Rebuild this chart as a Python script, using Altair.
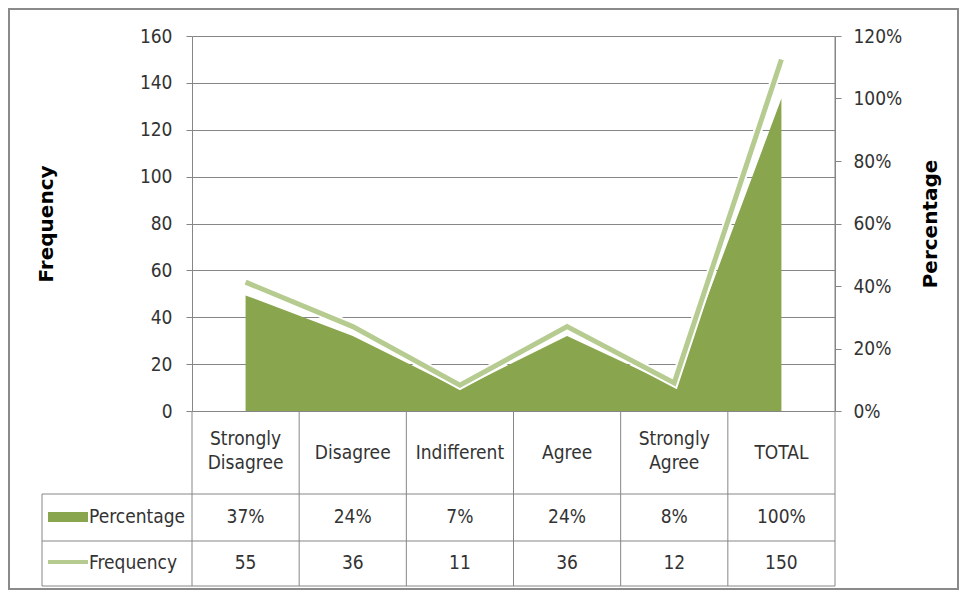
import altair as alt
import pandas as pd

# ---- data ----
categories = ["Strongly Disagree", "Disagree", "Indifferent", "Agree", "Strongly Agree", "TOTAL"]
percentage = [37, 24, 7, 24, 8, 100]
frequency = [55, 36, 11, 36, 12, 150]
series_names = ["Percentage", "Frequency"]
freq_ticks = [0, 20, 40, 60, 80, 100, 120, 140, 160]
pct_ticks = [0, 20, 40, 60, 80, 100, 120]

df = pd.DataFrame({"cat": categories, "pct": percentage, "freq": frequency})

W, H = 643, 375
FONT = "DejaVu Sans Condensed, sans-serif"
TITLE_FONT = "DejaVu Sans, sans-serif"
FS = 19
AREA_C = "#89A54E"
LINE_C = "#B6CB90"
GRID_C = "#868686"
TXT_C = "#333333"

xs = alt.X("cat:N", sort=categories,
           scale=alt.Scale(type="point", padding=0.5, domain=categories),
           axis=None)

base = alt.Chart(df)

area = base.mark_area(color=AREA_C, opacity=1).encode(
    x=xs,
    y=alt.Y("pct:Q", scale=alt.Scale(domain=[0, 120]),
            axis=alt.Axis(orient="right", values=pct_ticks, labelExpr="datum.value + '%'",
                          grid=False, domainColor=GRID_C, tickColor=GRID_C, tickSize=6,
                          labelFont=FONT, labelFontSize=FS, labelColor=TXT_C, labelPadding=12,
                          title="Percentage", titleFont=TITLE_FONT, titleFontSize=20,
                          titleFontWeight="bold", titleColor="#000000", titleAngle=-90,
                          titleX=95, titleY=H / 2, titleAlign="center", titleBaseline="middle")),
)

line_white = base.mark_line(color="white", strokeWidth=9).encode(
    x=xs,
    y=alt.Y("freq:Q", scale=alt.Scale(domain=[0, 160]), axis=None),
)

line = base.mark_line(color=LINE_C, strokeWidth=5).encode(
    x=xs,
    y=alt.Y("freq:Q", scale=alt.Scale(domain=[0, 160]),
            axis=alt.Axis(orient="left", values=freq_ticks, grid=True, gridColor=GRID_C,
                          gridWidth=1, gridOpacity=1, domainColor=GRID_C, tickColor=GRID_C,
                          tickSize=6, labelFont=FONT, labelFontSize=FS, labelColor=TXT_C,
                          labelPadding=14,
                          title="Frequency", titleFont=TITLE_FONT, titleFontSize=20,
                          titleFontWeight="bold", titleColor="#000000", titleAngle=-90,
                          titleX=-146, titleY=H / 2, titleAlign="center",
                          titleBaseline="middle")),
)

# ---- data table below the plot ----
one = alt.Data(values=[{}])

table_vlines = base.mark_rule(color=GRID_C, strokeWidth=1, xOffset=-W / 12).encode(
    x=xs, y=alt.value(H), y2=alt.value(550))
right_vline = alt.Chart(one).mark_rule(color=GRID_C, strokeWidth=1).encode(
    x=alt.value(W), y=alt.value(0), y2=alt.value(550))
left_vline = alt.Chart(one).mark_rule(color=GRID_C, strokeWidth=1).encode(
    x=alt.value(-150), y=alt.value(458), y2=alt.value(550))
hlines = [
    alt.Chart(one).mark_rule(color=GRID_C, strokeWidth=1).encode(
        x=alt.value(-150), x2=alt.value(W), y=alt.value(yy))
    for yy in (458, 505, 550)
]

header_one = base.transform_filter("indexof(datum.cat, ' ') < 0").mark_text(
    font=FONT, fontSize=FS, color=TXT_C, baseline="middle", align="center").encode(
    x=xs, y=alt.value(417), text="cat:N")
header_two = base.transform_filter("indexof(datum.cat, ' ') >= 0").mark_text(
    font=FONT, fontSize=FS, color=TXT_C, lineBreak=" ", lineHeight=24,
    baseline="middle", align="center").encode(
    x=xs, y=alt.value(403), text="cat:N")

pct_text = base.transform_calculate(lbl="datum.pct + '%'").mark_text(
    font=FONT, fontSize=FS, color=TXT_C, baseline="middle", align="center").encode(
    x=xs, y=alt.value(481), text="lbl:N")

freq_text = base.mark_text(font=FONT, fontSize=FS, color=TXT_C, baseline="middle",
                           align="center").encode(
    x=xs, y=alt.value(527), text="freq:Q")

series_df = pd.DataFrame({"name": series_names})
pct_key = alt.Chart(series_df).transform_filter(alt.datum.name == series_names[0]).mark_rect(
    color=AREA_C).encode(x=alt.value(-144), x2=alt.value(-104), y=alt.value(476), y2=alt.value(486))
freq_key = alt.Chart(series_df).transform_filter(alt.datum.name == series_names[1]).mark_rule(
    color=LINE_C, strokeWidth=4).encode(x=alt.value(-144), x2=alt.value(-104), y=alt.value(526))
pct_lab = alt.Chart(series_df).transform_filter(alt.datum.name == series_names[0]).mark_text(
    font=FONT, fontSize=FS, color=TXT_C, align="left", baseline="middle").encode(
    x=alt.value(-103), y=alt.value(481), text="name:N")
freq_lab = alt.Chart(series_df).transform_filter(alt.datum.name == series_names[1]).mark_text(
    font=FONT, fontSize=FS, color=TXT_C, align="left", baseline="middle").encode(
    x=alt.value(-103), y=alt.value(527), text="name:N")

frame = alt.Chart(one).mark_rect(fillOpacity=0, stroke="#8a8a8a", strokeWidth=2).encode(
    x=alt.value(-183), x2=alt.value(766), y=alt.value(-27), y2=alt.value(553))

chart = alt.layer(
    frame, area, line_white, line,
    table_vlines, right_vline, left_vline, *hlines,
    header_one, header_two, pct_text, freq_text, pct_key, freq_key, pct_lab, freq_lab,
).resolve_scale(y="independent").properties(
    width=W, height=H,
    padding={"left": 184, "top": 28, "right": 124, "bottom": 179},
    autosize=alt.AutoSizeParams(type="none"),
    background="white",
).configure_view(stroke=None)

chart.save("out.html", embed_options={"renderer": "svg", "actions": False})
